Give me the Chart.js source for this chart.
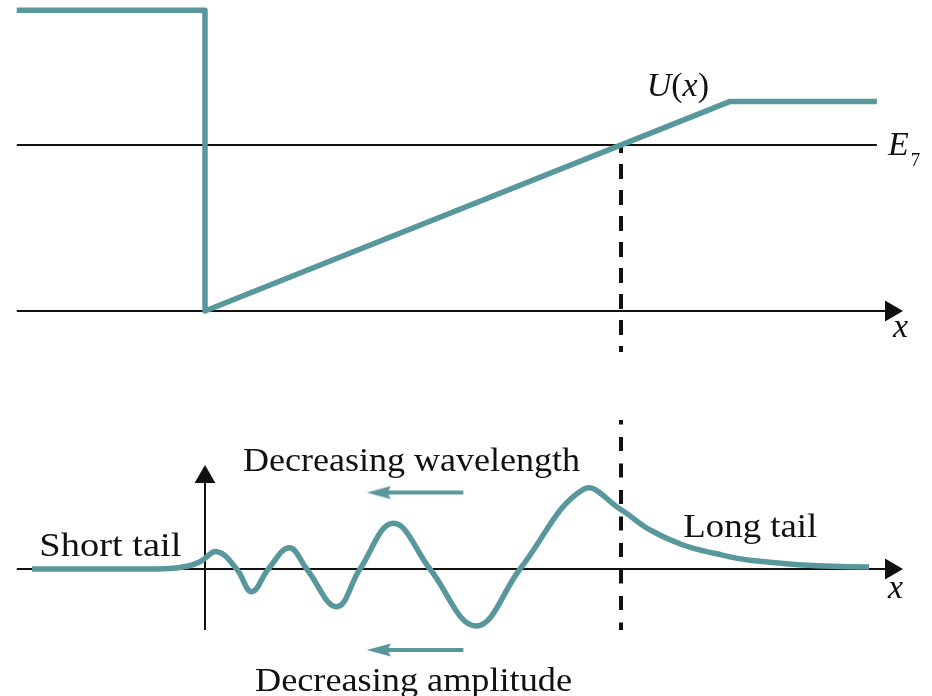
<!DOCTYPE html>
<html lang="en">
<head>
<meta charset="UTF-8">
<title>Turning point: potential and wavefunction</title>
<script src="https://cdn.jsdelivr.net/npm/chart.js"></script>
<style>
    html, body { margin: 0; padding: 0; background: #fff; }
    #wrap { width: 932px; height: 696px; }
</style>
</head>
<body>
<div id="wrap"><canvas id="diagram" width="932" height="696"></canvas></div>
<script>
// ---- top panel: the potential U(x) and the level E_7 ----
const wellX = [-1.81, 0, 0, 5.05, 6.46];
const wellU = [7.25, 7.25, 0, 5.05, 5.05];
const levelX = [-1.81, 6.46];
const levelE = [4, 4];
const turningX = 4;

// ---- bottom panel: the wavefunction ----
const psiX = [-1.663, -0.817, -0.337, -0.163, -0.048, 0.118, 0.305, 0.449, 0.609, 0.811,
              0.978, 1.266, 1.490, 1.811, 2.163, 2.606,
              3.029, 3.638, 3.990, 4.279, 4.596, 4.920, 5.240, 5.885, 6.385];
const psiY = [0, 0, 0.006, 0.038, 0.091, 0.216, 0, -0.284, 0, 0.266,
              0, -0.471, 0, 0.571, 0, -0.713,
              0, 0.996, 0.75, 0.488, 0.3, 0.19, 0.11, 0.04, 0.025];

// axes and arrows (data units)
const axisStart = -1.81;
const axisEnd = 6.596;
const psiAxisBottom = -0.7625;
const psiAxisTop = 1.15;
const dashTopU = [4, -0.988];
const dashPsi = [1.8625, -0.7625];
const arrowShaftX = [2.484, 1.75];
const arrowHeadX = 1.67;
const arrowRowsPsi = [0.956, -1.0125];

const teal = '#58979c';
const ink = '#111';

function pts(xs, ys) {
    return xs.map((x, i) => ({ x: x, y: ys[i] }));
}

// small arrow head image used as a point style for the teal arrows
const headImg = document.createElement('canvas');
headImg.width = 24; headImg.height = 14;
(function () {
    const c = headImg.getContext('2d');
    c.fillStyle = teal;
    c.beginPath();
    c.moveTo(0, 7);
    c.lineTo(24, 0.5);
    c.lineTo(21, 7);
    c.lineTo(24, 13.5);
    c.closePath();
    c.fill();
})();

const labels = [
    { axis: 'yU', x: 4.247, y: 5.18, parts: [{ t: 'U', it: true }, { t: '(' }, { t: 'x', it: true }, { t: ')' }] },
    { axis: 'yU', x: 6.567, y: 3.76, parts: [{ t: 'E', it: true }, { t: '7', size: 19, dy: 11, dx: 2 }] },
    { axis: 'yU', x: 6.615, y: -0.627, parts: [{ t: 'x', it: true }] },
    { axis: 'yP', x: 6.567, y: -0.3625, parts: [{ t: 'x', it: true }] },
    { axis: 'yP', x: -1.593, y: 0.1625, width: 142, parts: [{ t: 'Short tail' }] },
    { axis: 'yP', x: 4.599, y: 0.396, width: 134, parts: [{ t: 'Long tail' }] },
    { axis: 'yP', x: 0.365, y: 1.229, width: 337, parts: [{ t: 'Decreasing wavelength' }] },
    { axis: 'yP', x: 0.481, y: -1.525, width: 317, parts: [{ t: 'Decreasing amplitude' }] }
];

function fontOf(p) {
    return (p.it ? 'italic ' : '') + (p.size || 34) + 'px "Liberation Serif", "DejaVu Serif", serif';
}

const labelPlugin = {
    id: 'labels',
    afterDatasetsDraw(chart) {
        const ctx = chart.ctx;
        labels.forEach(l => {
            const px = chart.scales.x.getPixelForValue(l.x);
            const py = chart.scales[l.axis].getPixelForValue(l.y);
            ctx.save();
            ctx.fillStyle = ink;
            ctx.textAlign = 'left';
            ctx.textBaseline = 'alphabetic';
            let total = 0;
            l.parts.forEach(p => { ctx.font = fontOf(p); total += ctx.measureText(p.t).width + (p.dx || 0); });
            const sx = l.width ? l.width / total : 1;
            ctx.translate(px, py);
            ctx.scale(sx, 1);
            let cx = 0;
            l.parts.forEach(p => {
                ctx.font = fontOf(p);
                cx += p.dx || 0;
                ctx.fillText(p.t, cx, p.dy || 0);
                cx += ctx.measureText(p.t).width;
            });
            ctx.restore();
        });
    }
};

const line = (data, axis, color, width, extra) => Object.assign({
    data: data,
    yAxisID: axis,
    showLine: true,
    borderColor: color,
    borderWidth: width,
    pointRadius: 0,
    tension: 0,
    fill: false
}, extra || {});

const head = (x, y, axis, rot) => ({
    data: [{ x: x, y: y }],
    yAxisID: axis,
    showLine: false,
    pointStyle: 'triangle',
    pointRadius: 12,
    pointRotation: rot,
    pointBackgroundColor: ink,
    pointBorderWidth: 0
});

const datasets = [
    // dataset 0 is drawn on top
    line(pts([turningX, turningX], dashPsi), 'yP', ink, 4, { borderDash: [14, 12.5], borderDashOffset: 9.5 }),
    line(pts(psiX, psiY), 'yP', teal, 5.5, { tension: 0.4, borderCapStyle: 'butt' }),
    line(pts(wellX, wellU), 'yU', teal, 5.5, { borderJoinStyle: 'round' }),
    line(pts([turningX, turningX], dashTopU), 'yU', ink, 4, { borderDash: [15, 11], borderDashOffset: 7 }),
    line(pts(levelX, levelE), 'yU', ink, 2),
    line(pts([axisStart, axisEnd], [0, 0]), 'yU', ink, 2),
    head(axisEnd, 0, 'yU', 90),
    line(pts([axisStart, axisEnd], [0, 0]), 'yP', ink, 2),
    head(axisEnd, 0, 'yP', 90),
    line(pts([0, 0], [psiAxisBottom, psiAxisTop]), 'yP', ink, 2),
    head(0, psiAxisTop, 'yP', 0)
];
arrowRowsPsi.forEach(r => {
    datasets.push(line(pts(arrowShaftX, [r, r]), 'yP', teal, 4));
    datasets.push({
        data: [{ x: arrowHeadX, y: r }],
        yAxisID: 'yP',
        showLine: false,
        pointStyle: headImg,
        pointRadius: 6
    });
});

new Chart(document.getElementById('diagram').getContext('2d'), {
    type: 'scatter',
    data: { datasets: datasets },
    options: {
        responsive: false,
        animation: false,
        devicePixelRatio: 1,
        layout: { padding: 0, autoPadding: false },
        plugins: { legend: { display: false }, tooltip: { enabled: false } },
        events: [],
        scales: {
            x: { type: 'linear', min: -1.971, max: 6.990, display: false },
            yU: { type: 'linear', position: 'left', min: -9.277, max: 7.494, display: false },
            yP: { type: 'linear', position: 'left', min: -1.5875, max: 7.1125, display: false }
        }
    },
    plugins: [labelPlugin]
});
</script>
</body>
</html>
